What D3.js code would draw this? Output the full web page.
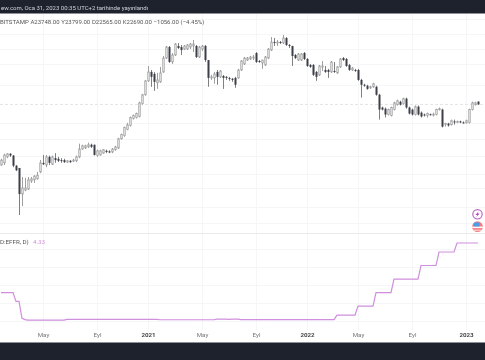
<!DOCTYPE html>
<html><head><meta charset="utf-8">
<script src="https://cdn.jsdelivr.net/npm/d3@7/dist/d3.min.js"></script>
<style>html,body{margin:0;padding:0;background:#fff;overflow:hidden}svg{display:block;font-family:Roboto,sans-serif;filter:blur(.45px)}</style>
</head><body><div id="c"></div>
<script>
const headerText="ew.com, Oca 31, 2023 00:35 UTC+2 tarihinde yayınlandı";
const legendText="BITSTAMP A23748.00 Y23799.00 D22565.00 K22690.00 −1056.00 (−4.45%)";
const rateLabel="D:EFFR, D)";
const rateValue="4.33";
const tickIndex=[14,32,49,67,85,102,119,137,155];
const tickLabels=["May","Eyl","2021","May","Eyl","2022","May","Eyl","2023"];
const priceGrid=[89000,70000,55000,43400,31100,16900,13100,10000,7500,5950,4380,3400];
const rateGrid=[4,3,2,1,0];
const opens=[8600,8900,9800,10300,10000,8500,8200,5400,5750,5850,6650,6800,6900,7700,8900,8600,9800,8700,9600,9500,
9300,9300,9000,9200,9200,9200,9800,11100,11300,11500,11900,11900,10000,10100,10400,10800,10700,10600,11000,11300,
13100,13800,15200,16200,18100,18400,18700,23000,26500,33100,38200,37000,32100,32600,38200,47700,56900,44800,50100,57900,
56900,55100,55100,56900,57900,57900,48500,55100,57900,46200,34700,34700,38200,35300,35800,35300,34700,34200,34700,34700,
39400,43400,46200,47000,47700,51700,45500,44100,42700,47700,54200,61700,60700,61700,60700,65700,58800,57900,50100,46200,
46200,51700,47000,42700,42700,38200,36400,41400,39400,39400,38200,38800,37600,41400,47700,47000,42700,39400,39400,39400,
33600,31100,30600,29600,30100,30100,26500,21600,21200,19300,19000,20900,22600,23700,23000,24900,21600,20900,19300,21900,
19900,19300,19000,19400,19200,19300,20900,20900,16600,16700,16400,17300,17100,17300,17000,16900,17000,20900,22600,23748];
const highs=[9500,10300,10400,10400,10100,8600,8200,7100,7000,7100,7100,7300,7700,9300,10100,10100,10000,10000,10400,9800,
9600,9500,9300,9300,9500,10000,12100,11900,11900,12300,12100,11900,11000,11000,11100,11000,10900,11300,11700,13300,
14200,15900,16900,18700,19300,19900,23700,26900,33600,42000,39400,38200,37600,41400,49300,57900,57900,51700,60700,60700,
58800,58800,59700,60700,63700,58800,57900,58800,58800,46200,36400,38200,39400,39400,36400,35800,35300,34700,35300,40100,
46200,48500,48500,49300,50100,52500,46200,46200,49300,56000,66800,65700,63700,62700,69000,66800,59700,57900,50900,51700,
51700,52500,47700,43400,43400,38800,42700,45500,42000,40100,45500,44800,42000,47700,48500,47700,43400,41400,40100,40100,
34200,31600,31100,30600,32100,30600,26900,21900,21600,21200,21900,23700,24500,24100,25300,25300,21900,21200,22300,22300,
20300,19600,19900,19600,19900,21200,21600,21200,16900,16900,17800,17800,17500,17500,17300,17800,21200,23700,23700,23799];
const lows=[8500,8600,9600,9800,8300,7800,3860,4450,5650,5750,6450,6450,6800,7550,8600,8300,8600,8600,8900,9000,
8900,8900,8900,8900,9000,9000,9600,11000,11100,11300,11300,10000,9800,10000,10300,10400,10400,10400,10800,11100,
12900,13500,15000,15900,17800,18100,18400,22600,26100,32600,30100,28200,29100,32100,37600,47000,44100,43400,49300,55100,
50100,54200,54200,55100,52500,47700,47700,53400,44800,30100,33600,31600,31100,34700,29100,33600,33100,32600,29600,34200,
38800,42700,45500,46200,46200,44100,44100,40100,42000,47000,53400,57900,57900,59700,59700,57900,56000,42000,47000,45500,
45500,46200,41400,40700,35800,33100,35800,38800,37600,34700,37600,37600,37000,40700,45500,41400,38800,38800,38200,33100,
25300,30100,28700,29100,29600,26100,17800,20600,18400,19000,18700,20600,22300,22300,22600,21200,19300,19000,19000,19000,
18400,18700,18400,19000,18700,19000,20600,15700,15900,15900,16200,16400,16800,16800,16700,16700,16700,20600,22300,22565];
const closes=[9300,10100,10300,10000,8500,7900,5400,5950,5950,6800,6900,7200,7300,8900,8700,9800,8900,9800,9300,9200,
9200,9000,9200,9000,9300,9800,11100,11700,11700,11900,11500,10100,10800,10800,11000,10600,10500,11100,11500,13100,
14000,15700,16400,18400,19000,19600,23300,26500,33100,38200,35300,32600,33600,37600,47700,56900,44800,50100,59700,56000,
54200,57900,58800,59700,59700,48500,56900,57900,46200,34700,35300,37000,35300,38800,34700,34700,34200,33600,31100,39400,
45500,47700,47700,48500,48500,44800,44800,46200,48500,55100,61700,60700,61700,60700,65700,58800,57900,49300,47700,50900,
50900,47000,42000,41400,36400,35300,42000,42000,38200,38200,44800,38200,41400,47000,46200,42000,39400,40700,38800,33600,
31100,30600,29100,30100,31600,26500,20900,20900,19300,20900,21600,23300,24100,22600,24900,21600,19600,19300,21900,19300,
18700,19000,19600,19200,19400,20900,21200,15900,16700,16200,17500,17000,17300,17000,16900,17500,20900,23300,23300,22690];
const rates=[1.58,1.58,1.58,1.58,1.58,1.09,1.09,.15,.08,.05,.05,.05,.05,.05,.05,.05,.05,.05,.05,.05,
.05,.05,.09,.09,.09,.09,.09,.09,.09,.09,.09,.09,.09,.09,.09,.09,.09,.09,.09,.09,
.09,.09,.09,.09,.09,.09,.09,.09,.09,.09,.09,.09,.09,.07,.07,.07,.07,.07,.07,.07,
.07,.07,.07,.07,.07,.07,.07,.07,.07,.07,.07,.07,.10,.10,.10,.10,.09,.10,.10,.10,
.08,.08,.08,.08,.08,.08,.08,.08,.08,.08,.08,.08,.08,.08,.08,.08,.08,.08,.08,.08,
.08,.08,.08,.08,.08,.08,.08,.08,.08,.08,.08,.08,.33,.33,.33,.33,.33,.33,.33,.83,
.83,.83,.83,.83,.83,1.58,1.58,1.58,1.58,1.58,1.58,2.33,2.33,2.33,2.33,2.33,2.33,2.33,2.33,2.33,
3.08,3.08,3.08,3.08,3.08,3.08,3.83,3.83,3.83,3.83,3.83,3.83,4.33,4.33,4.33,4.33,4.33,4.33,4.33,4.33];

const W=485,H=360,dark="#1e222d";
const x=d3.scaleLinear().domain([0,159]).range([1,478]);
const y=d3.scaleLog().domain([3860,69000]).range([215,35]);
const yr=d3.scaleLinear().domain([0,4.33]).range([321,243]);
const svg=d3.select("#c").append("svg").attr("width",W).attr("height",H);
svg.append("rect").attr("width",W).attr("height",H).attr("fill","#fff");

// grid
const grid=svg.append("g").attr("stroke","#f5f6f8").attr("stroke-width",1);
grid.selectAll("line.v").data(tickIndex).join("line").attr("x1",d=>Math.round(x(d))+.5).attr("x2",d=>Math.round(x(d))+.5).attr("y1",14).attr("y2",330);
grid.selectAll("line.p").data(priceGrid).join("line").attr("x1",0).attr("x2",W).attr("y1",d=>Math.round(y(d))+.5).attr("y2",d=>Math.round(y(d))+.5);
grid.selectAll("line.r").data(rateGrid).join("line").attr("x1",0).attr("x2",W).attr("y1",d=>Math.round(yr(d))+.5).attr("y2",d=>Math.round(yr(d))+.5);
svg.append("line").attr("x1",0).attr("x2",W).attr("y1",233.5).attr("y2",233.5).attr("stroke","#e9eaec");
// last price line
svg.append("line").attr("x1",0).attr("x2",W).attr("y1",y(closes[159])).attr("y2",y(closes[159])).attr("stroke","#e4e4e4").attr("stroke-dasharray","3 2");

// candles
const idx=d3.range(opens.length);
const g=svg.append("g");
g.selectAll("line.w").data(idx).join("line").attr("x1",i=>x(i)+.5).attr("x2",i=>x(i)+.5)
 .attr("y1",i=>y(highs[i])).attr("y2",i=>y(lows[i])).attr("stroke",i=>closes[i]<opens[i]?"#808080":"#a0a0a0").attr("stroke-width",1);
g.selectAll("rect").data(idx).join("rect")
 .attr("x",i=>closes[i]<opens[i]?x(i)-.5:x(i)-.2).attr("width",i=>closes[i]<opens[i]?2:1.4)
 .attr("y",i=>y(Math.max(opens[i],closes[i])))
 .attr("height",i=>Math.max(1,Math.abs(y(opens[i])-y(closes[i]))))
 .attr("fill",i=>closes[i]<opens[i]?"#3c3f48":"#fff")
 .attr("stroke",i=>closes[i]<opens[i]?"none":"#999").attr("stroke-width",.8);

// rate line
svg.append("path").datum(idx).attr("fill","none").attr("stroke","#cf8fdc").attr("stroke-width",1.2)
 .attr("d",d3.line().x(i=>x(i)).y(i=>yr(rates[i])));

// header & footer
svg.append("rect").attr("width",W).attr("height",13).attr("fill",dark);
svg.append("rect").attr("y",13).attr("width",W).attr("height",1).attr("fill","#8d9099");
svg.append("rect").attr("y",342).attr("width",W).attr("height",18).attr("fill",dark);
svg.append("rect").attr("y",342).attr("width",W).attr("height",1).attr("fill","#8d9099");
svg.append("text").text(headerText).attr("x",1).attr("y",10).attr("font-size",6).attr("fill","#d1d4dc");
svg.append("text").text(legendText).attr("x",0).attr("y",23.5).attr("font-size",6).attr("fill","#555").style("word-spacing",".3px");
svg.append("text").text(rateLabel).attr("x",0).attr("y",243.5).attr("font-size",6.2).attr("fill","#555");
svg.append("text").text(rateValue).attr("x",33).attr("y",243.5).attr("font-size",6.2).attr("fill","#ce93d8");

// time axis
const axis=d3.axisBottom(x).tickValues(tickIndex).tickSize(0).tickPadding(0).tickFormat((d,i)=>tickLabels[i]);
const ax=svg.append("g").attr("transform","translate(0,332.5)").call(axis);
ax.select(".domain").remove();
ax.selectAll("text").attr("font-size",6.2).attr("font-family","Roboto,sans-serif").attr("fill",(d,i)=>/^\d/.test(tickLabels[i])?"#444":"#777").attr("font-weight",(d,i)=>/^\d/.test(tickLabels[i])?700:400);

// marker icons
const bolt=svg.append("g").attr("transform","translate(477.5,214.3)");
bolt.append("circle").attr("r",4.7).attr("fill","#fff").attr("stroke","#ba68c8").attr("stroke-width",1.2);
bolt.append("path").attr("d",d3.line()([[1.2,-3],[-2,.6],[-.2,.6],[-1.2,3],[2,-.8],[.2,-.8]])+"Z").attr("fill","#ab47bc");
const flag=svg.append("g").attr("transform","translate(477.5,226.7)");
flag.append("clipPath").attr("id","fc").append("circle").attr("r",5.4);
const fi=flag.append("g").attr("clip-path","url(#fc)");
fi.append("rect").attr("x",-6).attr("y",-6).attr("width",12).attr("height",12).attr("fill","#f77c80");
fi.append("rect").attr("x",-6).attr("y",-.2).attr("width",12).attr("height",1.6).attr("fill","#fff");
fi.append("rect").attr("x",-6).attr("y",3).attr("width",12).attr("height",1).attr("fill","#fdd");
fi.append("rect").attr("x",-4).attr("y",-4.2).attr("width",6).attr("height",4).attr("fill","#4c9de8");
</script></body></html>
